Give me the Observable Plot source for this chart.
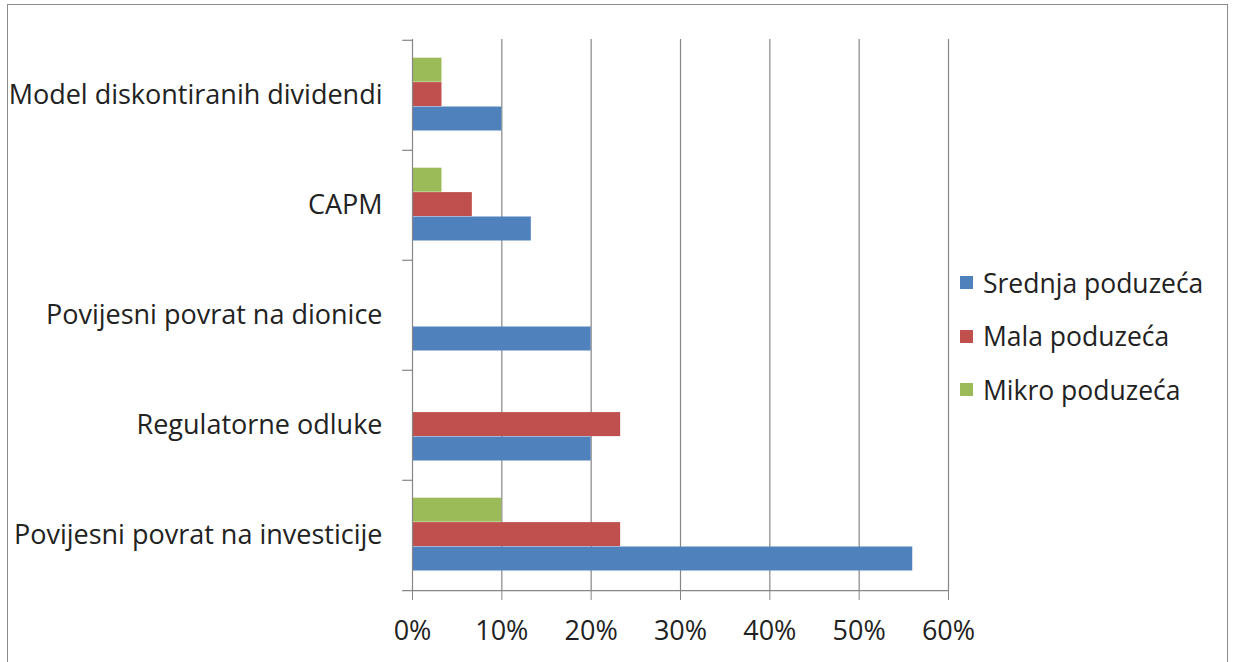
<!DOCTYPE html>
<html>
<head>
<meta charset="utf-8">
<script src="https://cdn.jsdelivr.net/npm/d3@7"></script>
<script src="https://cdn.jsdelivr.net/npm/@observablehq/plot@0.6"></script>
<style>
  html, body { margin: 0; padding: 0; background: #fff; }
  body { width: 1235px; height: 662px; position: relative; overflow: hidden; font-family: "Open Sans", sans-serif; }
  #frame { position: absolute; left: 7px; top: 4px; width: 1221px; height: 680px; border: 1.5px solid #8c8c8c; box-sizing: border-box; }
  #chart { position: absolute; left: 0; top: 0; }
  #legend { position: absolute; left: 960px; top: 256px; }
  .item { display: flex; align-items: center; height: 53.5px; font-size: 26.5px; color: #222; white-space: nowrap; }
  .sw { width: 13px; height: 13px; margin-right: 10px; }
</style>
</head>
<body>
<div id="frame"></div>
<div id="chart"></div>
<div id="legend"></div>
<script>
// Categories, top to bottom
const categories = [
  "Model diskontiranih dividendi",
  "CAPM",
  "Povijesni povrat na dionice",
  "Regulatorne odluke",
  "Povijesni povrat na investicije"
];
// Series values (%)
const mikro   = [3.3, 3.3, 0, 0, 10];
const mala    = [3.3, 6.7, 0, 23.3, 23.3];
const srednja = [10, 13.3, 20, 20, 56];
// Series names and colours
const seriesNames = ["Mikro poduzeća", "Mala poduzeća", "Srednja poduzeća"]; // top to bottom within group
const seriesColors = ["#9BBB59", "#C0504D", "#4F81BD"];
const legendOrder = ["Srednja poduzeća", "Mala poduzeća", "Mikro poduzeća"];
const xTicks = [0, 10, 20, 30, 40, 50, 60];

const seriesValues = [mikro, mala, srednja];
const rows = [];
seriesNames.forEach((s, i) => categories.forEach((c, j) => rows.push({series: s, category: c, value: seriesValues[i][j]})));

const W = 1010, H = 662, mT = 39, mB = 71, mL = 412, mR = 62;
const band = (H - mT - mB) / categories.length;
const padTop = 17.7, barH = 24.4;
const gray = "#868686";
const fs = 27;

const barMarks = seriesNames.map((s, i) =>
  Plot.barX(rows.filter(d => d.series === s && d.value > 0), {
    x: "value", y: "category", fill: seriesColors[i],
    insetTop: padTop + i * barH,
    insetBottom: band - padTop - (i + 1) * barH
  })
);

const chart = Plot.plot({
  width: W, height: H,
  marginTop: mT, marginBottom: mB, marginLeft: mL, marginRight: mR,
  style: {fontFamily: "Open Sans", fontSize: fs + "px", color: "#222", background: "transparent"},
  x: {domain: [0, 60], label: null},
  y: {domain: categories, padding: 0, label: null},
  marks: [
    Plot.gridX(xTicks.slice(1), {stroke: gray, strokeOpacity: 1, strokeWidth: 1.2}),
    ...barMarks,
    Plot.ruleX([0], {stroke: gray, strokeWidth: 1.2}),
    // category boundary ticks
    Plot.ruleY(categories, {y: d => d, dy: -band / 2, x1: -1.1, x2: 0, stroke: gray, strokeWidth: 1.2}),
    Plot.ruleY(categories.slice(-1), {y: d => d, dy: band / 2, x1: -1.1, x2: 60, stroke: gray, strokeWidth: 1.2}),
    Plot.axisX({ticks: xTicks, tickFormat: d => d + "%", tickSize: 9, tickPadding: 20, stroke: gray, fontSize: fs, fill: "#222"}),
    Plot.axisY({tickSize: 0, tickPadding: 30, fontSize: fs, fill: "#222"})
  ]
});
document.getElementById("chart").appendChild(chart);

const legend = document.getElementById("legend");
legendOrder.forEach(name => {
  const i = seriesNames.indexOf(name);
  const item = document.createElement("div");
  item.className = "item";
  const sw = document.createElement("div");
  sw.className = "sw";
  sw.style.background = seriesColors[i];
  const t = document.createElement("span");
  t.textContent = name;
  item.appendChild(sw);
  item.appendChild(t);
  legend.appendChild(item);
});
</script>
</body>
</html>
